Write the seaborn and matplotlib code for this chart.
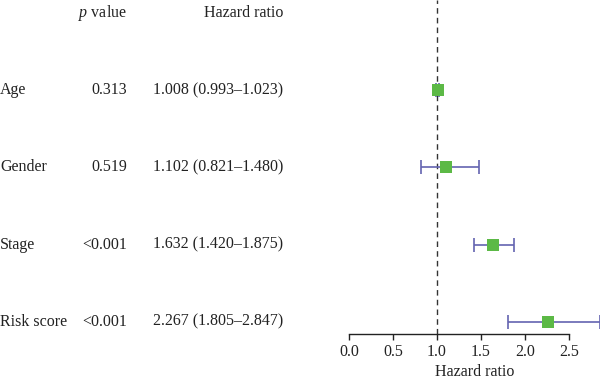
import matplotlib
matplotlib.use("Agg")
import matplotlib.pyplot as plt
import matplotlib.transforms as mtransforms
import seaborn as sns
import pandas as pd

variables = ["Age", "Gender", "Stage", "Risk score"]
p_values = ["0.313", "0.519", "<0.001", "<0.001"]
hr = [1.008, 1.102, 1.632, 2.267]
ci_low = [0.993, 0.821, 1.420, 1.805]
ci_high = [1.023, 1.480, 1.875, 2.847]
hr_ticks = [0.0, 0.5, 1.0, 1.5, 2.0, 2.5]

df = pd.DataFrame({"var": variables, "p": p_values, "hr": hr,
                   "lo": ci_low, "hi": ci_high})
df["row"] = range(len(df))

sns.set_theme(style="white")
plt.rcParams["font.family"] = ["Liberation Serif", "DejaVu Serif"]
plt.rcParams["mathtext.fontset"] = "custom"
plt.rcParams["mathtext.rm"] = "Liberation Serif"
plt.rcParams["mathtext.it"] = "Liberation Serif:italic"

fig = plt.figure(figsize=(6.0, 3.82), dpi=100)
ax = fig.add_axes([349 / 600, 48 / 382, 2.86 * 88 / 600, 334 / 382])

green = "#5cb946"
blue = "#6464b0"
fs = 11.5

ax.axvline(1.0, color="#333333", linestyle=(0, (4, 3)), linewidth=1.0, zorder=1)
ax.errorbar(df["hr"], df["row"],
            xerr=[df["hr"] - df["lo"], df["hi"] - df["hr"]],
            fmt="none", ecolor=blue, elinewidth=1.2, capsize=5, capthick=1.2,
            zorder=2)
sns.scatterplot(data=df, x="hr", y="row", marker="s", s=85, color=green,
                edgecolor=green, linewidth=0, ax=ax, zorder=3)

ax.set_xlim(0, 2.86)
ax.set_ylim(3.157, -1.164)
ax.set_xticks(hr_ticks)
ax.set_xticklabels([f"{t:.1f}" for t in hr_ticks], fontsize=fs, color="#222222")
ax.set_yticks([])
ax.set_ylabel("")
ax.set_xlabel("Hazard ratio", fontsize=fs, color="#222222", labelpad=3)
for s in ["top", "right", "left"]:
    ax.spines[s].set_visible(False)
ax.spines["bottom"].set_bounds(0, 2.5)
ax.spines["bottom"].set_color("#222222")
ax.spines["bottom"].set_linewidth(1.0)
ax.tick_params(axis="x", direction="out", length=4, width=1.0,
               color="#222222", bottom=True, pad=3)

trans = mtransforms.blended_transform_factory(fig.transFigure, ax.transData)
txt = dict(fontsize=fs, color="#222222", va="center", transform=trans,
           clip_on=False)
ax.text(127 / 600, -1.0, "$\\it{p}$ value", ha="right", **txt)
ax.text(283 / 600, -1.0, "Hazard ratio", ha="right", **txt)
for _, r in df.iterrows():
    ax.text(0.0, r["row"], r["var"], ha="left", **txt)
    ax.text(127 / 600, r["row"], r["p"], ha="right", **txt)
    ax.text(283 / 600, r["row"],
            f"{r['hr']:.3f} ({r['lo']:.3f}\u2013{r['hi']:.3f})", ha="right", **txt)

fig.savefig("out.png", dpi=100)
